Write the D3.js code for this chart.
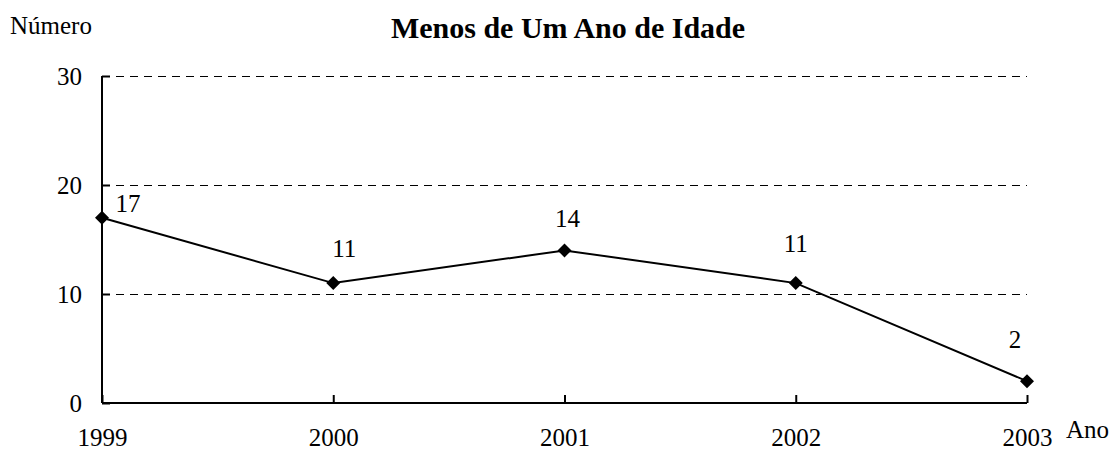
<!DOCTYPE html>
<html>
<head>
<meta charset="UTF-8">
<style>
  body { margin: 0; background: #fff; }
  text { font-family: "Liberation Serif", "Times New Roman", serif; fill: #000; }
</style>
</head>
<body>
<svg id="chart" width="1116" height="450"></svg>
<script src="https://cdn.jsdelivr.net/npm/d3@7/dist/d3.min.js"></script>
<script>
var years = ["1999", "2000", "2001", "2002", "2003"];
var values = [17, 11, 14, 11, 2];
var yTicks = [0, 10, 20, 30];

var svg = d3.select("#chart");
var m = {left: 102, right: 1027, top: 76, bottom: 403};

// label nudges, as placed in the original
var labelDx = [26, 11, 3, 0, -12];
var labelDy = [-6, -26, -23, -31, -33];

var x = d3.scalePoint().domain(years).range([m.left, m.right]);
var y = d3.scaleLinear().domain([0, 30]).range([m.bottom, m.top]);

// dashed gridlines (half pixel so they stay crisp)
svg.append("g").selectAll("line").data(yTicks.filter(d => d > 0)).enter()
    .append("line")
    .attr("x1", m.left).attr("x2", m.right)
    .attr("y1", d => Math.round(y(d)) + 0.5).attr("y2", d => Math.round(y(d)) + 0.5)
    .attr("stroke", "#000").attr("stroke-width", 1)
    .attr("stroke-dasharray", "8,6");

// y axis
var yAxis = svg.append("g").attr("transform", "translate(" + m.left + ",0)")
    .call(d3.axisLeft(y).tickValues(yTicks).tickSize(-8).tickPadding(20));
yAxis.select(".domain").attr("stroke-width", 2).attr("d", "M0," + m.bottom + "V" + m.top);
yAxis.selectAll(".tick line").attr("stroke-width", 2);
yAxis.selectAll("text").style("font-size", "25px").attr("fill", "#000")
    .attr("font-family", "Liberation Serif");

// x axis
var xAxis = svg.append("g").attr("transform", "translate(0," + m.bottom + ")")
    .call(d3.axisBottom(x).tickSize(-8).tickPadding(25));
xAxis.select(".domain").attr("stroke-width", 2).attr("d", "M" + m.left + ",0H" + m.right);
xAxis.selectAll(".tick line").attr("stroke-width", 2);
xAxis.selectAll("text").style("font-size", "25px").attr("fill", "#000")
    .attr("font-family", "Liberation Serif");

// line
var line = d3.line().x((d, i) => x(years[i])).y(d => y(d));
svg.append("path").datum(values)
    .attr("d", line).attr("fill", "none")
    .attr("stroke", "#000").attr("stroke-width", 2);

// markers
svg.append("g").selectAll("path").data(values).enter()
    .append("path")
    .attr("transform", (d, i) => "translate(" + x(years[i]) + "," + y(d) + ")")
    .attr("d", "M0,-7L7,0L0,7L-7,0Z")
    .attr("fill", "#000");

// data labels
svg.append("g").selectAll("text").data(values).enter()
    .append("text")
    .attr("x", (d, i) => x(years[i]) + labelDx[i])
    .attr("y", (d, i) => y(d) + labelDy[i])
    .attr("text-anchor", "middle")
    .style("font-size", "25px")
    .text(d => d);

// titles
svg.append("text").attr("x", 568).attr("y", 38).attr("text-anchor", "middle")
    .style("font-size", "30px").style("font-weight", "bold")
    .text("Menos de Um Ano de Idade");
svg.append("text").attr("x", 10).attr("y", 34)
    .style("font-size", "25px").text("Número");
svg.append("text").attr("x", 1066).attr("y", 438)
    .style("font-size", "25px").text("Ano");
</script>
</body>
</html>
